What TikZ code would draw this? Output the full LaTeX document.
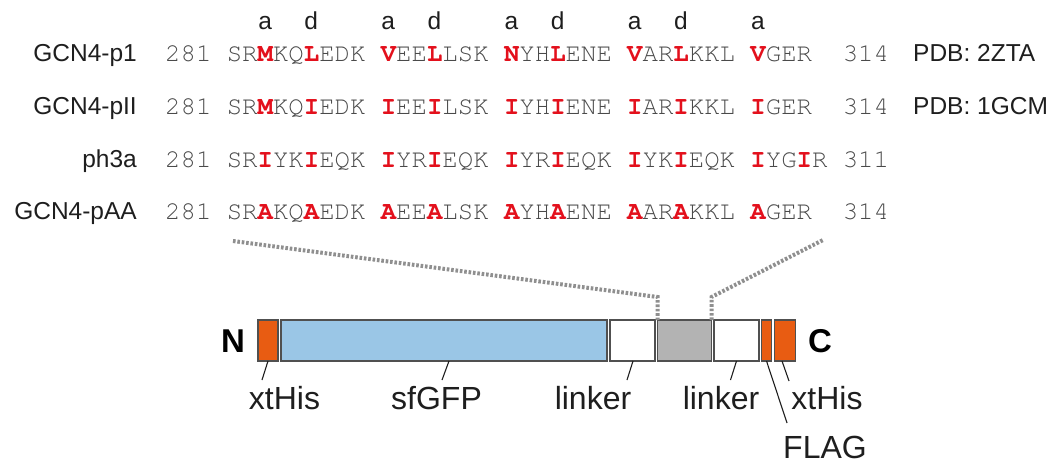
\documentclass[tikz,border=0pt]{standalone}
\usepackage{fontspec}
\setmainfont{Liberation Sans}
\newfontfamily\seqfont{texgyrecursor}[Extension=.otf, UprightFont=*-regular, BoldFont=*-bold]
\definecolor{seqred}{HTML}{E3101C}
\definecolor{seqgray}{HTML}{4A4A4A}
\definecolor{labcol}{HTML}{1E1E1E}
\definecolor{hisorange}{HTML}{E85C12}
\definecolor{gfpblue}{HTML}{9AC6E6}
\definecolor{coregray}{HTML}{B3B3B3}
\definecolor{edgecol}{HTML}{505050}
\definecolor{dotgray}{HTML}{8F8F8F}
\newcommand\R[1]{\textcolor{seqred}{\bfseries #1}}
\newcommand\seqrow[9]{%
  \node[seq] (#1n) at (165,#2) {#3};
  \node[seq] (#1a) at (226.6,#2) {#4};
  \node[seq] (#1b) at (380.6,#2) {#5};
  \node[seq] (#1c) at (503.8,#2) {#6};
  \node[seq] (#1d) at (627,#2) {#7};
  \node[seq] (#1e) at (750.2,#2) {#8};
  \node[seq] (#1f) at (842.6,#2) {#9};
}
\begin{document}
\begin{tikzpicture}[x=1pt,y=-1pt,
  lab/.style={font=\fontsize{24.5}{28}\selectfont, text=labcol, inner sep=0},
  seq/.style={font=\seqfont\fontsize{25.7}{30}\selectfont, text=seqgray, anchor=base west, inner sep=0},
  hdr/.style={font=\fontsize{24.5}{28}\selectfont, text=labcol, anchor=base, inner sep=0},
  part/.style={draw=edgecol, line width=1.4, anchor=north west, minimum height=41, inner sep=0, outer sep=0},
  plab/.style={font=\fontsize{32}{36}\selectfont, text=labcol, anchor=base, inner sep=0},
  term/.style={font=\bfseries\fontsize{33}{36}\selectfont, text=black, inner sep=0},
  leader/.style={draw=labcol, line width=1.1},
  dots/.style={draw=dotgray, line width=4, dash pattern=on 2.6pt off 1.8pt}
]
\useasboundingbox (0,0) rectangle (1059,464);

% heptad header
\foreach \i/\l [count=\k] in {265.1/a,311.3/d,388.3/a,434.5/d,511.5/a,557.7/d,634.7/a,680.9/d,757.9/a}
  \node[hdr] (h\k) at (\i,29) {\l};

% row labels
\node[lab, anchor=base east] (l1) at (137,61) {GCN4-p1};
\node[lab, anchor=base east] (l2) at (137,114) {GCN4-pII};
\node[lab, anchor=base east] (l3) at (137,167) {ph3a};
\node[lab, anchor=base east] (l4) at (137,219) {GCN4-pAA};

\seqrow{r1}{61}{281}{SR\R{M}KQ\R{L}EDK}{\R{V}EE\R{L}LSK}{\R{N}YH\R{L}ENE}{\R{V}AR\R{L}KKL}{\R{V}GER}{314}
\seqrow{r2}{114}{281}{SR\R{M}KQ\R{I}EDK}{\R{I}EE\R{I}LSK}{\R{I}YH\R{I}ENE}{\R{I}AR\R{I}KKL}{\R{I}GER}{314}
\seqrow{r3}{167}{281}{SR\R{I}YK\R{I}EQK}{\R{I}YR\R{I}EQK}{\R{I}YR\R{I}EQK}{\R{I}YK\R{I}EQK}{\R{I}YG\R{I}R}{311}
\seqrow{r4}{219}{281}{SR\R{A}KQ\R{A}EDK}{\R{A}EE\R{A}LSK}{\R{A}YH\R{A}ENE}{\R{A}AR\R{A}KKL}{\R{A}GER}{314}

\node[lab, anchor=base west] (pdb1) at (913,61) {PDB: 2ZTA};
\node[lab, anchor=base west] (pdb2) at (913,114) {PDB: 1GCM};

% construct
\node[part, fill=hisorange, minimum width=20] (his1) at (258,320) {};
\node[part, fill=gfpblue, minimum width=326] (gfp) at (281,320) {};
\node[part, fill=white, minimum width=45] (lk1) at (610,320) {};
\node[part, fill=coregray, minimum width=54] (core) at (657.5,320) {};
\node[part, fill=white, minimum width=45] (lk2) at (714,320) {};
\node[part, fill=hisorange, minimum width=10] (flag) at (761.5,320) {};
\node[part, fill=hisorange, minimum width=21] (his2) at (774.5,320) {};

\node[term] (N) at (233,341) {N};
\node[term] (C) at (820,341) {C};

% zoom lines
\coordinate (zl) at (233,241);
\coordinate (zr) at (823,240);
\draw[dots] (zl) -- (657.5,297) -- (core.north west);
\draw[dots] (core.north east) -- (711.5,297) -- (zr);

% part labels
\node[plab] (t1) at (284.5,409) {xtHis};
\node[plab] (t2) at (436.5,409) {sfGFP};
\node[plab] (t3) at (593,409) {linker};
\node[plab] (t4) at (721,409) {linker};
\node[plab] (t5) at (827,409) {xtHis};
\node[plab] (t6) at (825,458) {FLAG};

\draw[leader] (his1.south) -- ++(-6,19);
\draw[leader] ([xshift=5]gfp.south) -- ++(-7,19);
\draw[leader] ([xshift=0]lk1.south east) ++(-22,0) -- ++(-6,19);
\draw[leader] (lk2.south) -- ++(-6,19);
\draw[leader] (flag.south) -- (787,423);
\draw[leader] ([xshift=-3]his2.south) -- ++(7,20);
\end{tikzpicture}
\end{document}
